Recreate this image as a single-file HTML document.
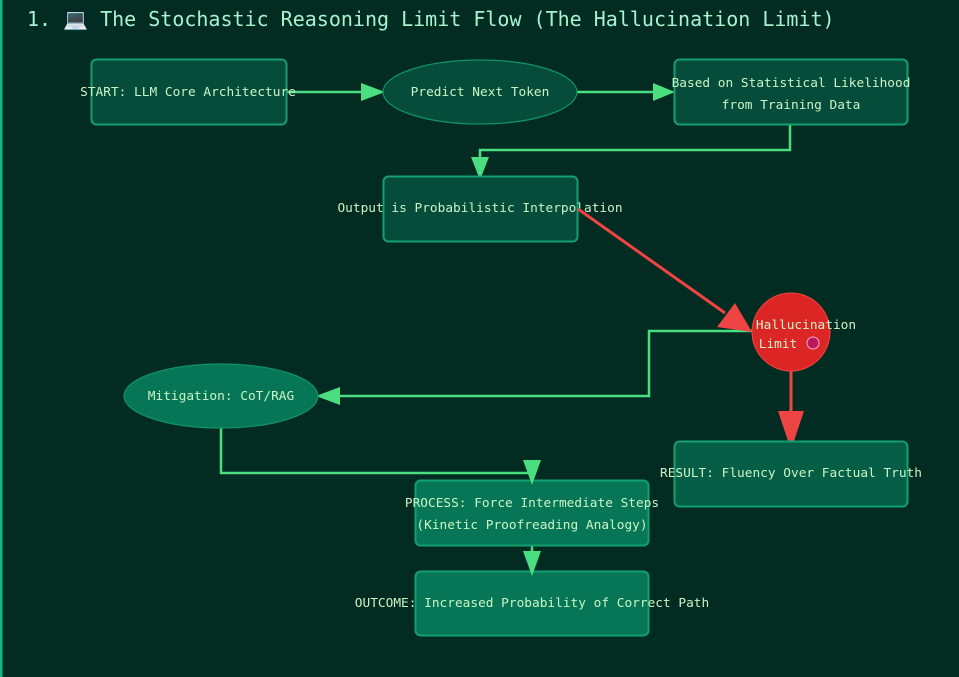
<!DOCTYPE html>
<html><head><meta charset="utf-8"><style>
html,body{margin:0;padding:0;background:#022b22;}
svg{display:block}
text{font-family:"DejaVu Sans Mono","Liberation Mono",monospace;font-size:12.8px;fill:#c9f5c4;}
</style></head><body>
<svg width="959" height="677" viewBox="0 0 959 677" xmlns="http://www.w3.org/2000/svg">
<rect x="0" y="0" width="959" height="677" fill="#022b22"/>
<rect x="0" y="0" width="2.5" height="677" fill="#10b981"/>
<text x="27" y="26" style="font-size:20px;fill:#a7f3d0">1. 💻 The Stochastic Reasoning Limit Flow (The Hallucination Limit)</text>

<g stroke="#4ade80" stroke-width="2.5" fill="none">
<line x1="286" y1="92" x2="365" y2="92"/>
<line x1="577" y1="92" x2="656" y2="92"/>
<polyline points="790,125 790,150 480,150 480,160"/>
<polyline points="752,331 649,331 649,396 335,396"/>
<polyline points="221,428 221,473 532,473 532,462"/>
<line x1="532" y1="545" x2="532" y2="556"/>
</g>
<g fill="#4ade80">
<polygon points="385,92 361,83 361,101"/>
<polygon points="675,92 653,83 653,101"/>
<polygon points="480,180 471,157 489,157"/>
<polygon points="316,396 340,387 340,405"/>
</g>

<rect x="91.5" y="59.5" width="195" height="65" rx="5" fill="#064c3b" stroke="#12a070" stroke-width="2"/>
<text x="188" y="96" text-anchor="middle">START: LLM Core Architecture</text>
<ellipse cx="480" cy="92" rx="97" ry="32" fill="#064c3b" stroke="#0e9466" stroke-width="1.2"/>
<text x="480" y="96" text-anchor="middle">Predict Next Token</text>
<rect x="674.5" y="59.5" width="233" height="65" rx="5" fill="#064c3b" stroke="#12a070" stroke-width="2"/>
<text x="791" y="87" text-anchor="middle">Based on Statistical Likelihood</text>
<text x="791" y="109" text-anchor="middle">from Training Data</text>
<rect x="383.5" y="176.5" width="194" height="65" rx="5" fill="#064c3b" stroke="#12a070" stroke-width="2"/>
<text x="480" y="212" text-anchor="middle">Output is Probabilistic Interpolation</text>

<line x1="578" y1="209" x2="725" y2="313" stroke="#ef4444" stroke-width="3"/>
<polygon points="752,332 717,327 735,303" fill="#ef4444"/>
<line x1="791" y1="371" x2="791" y2="415" stroke="#ef4444" stroke-width="3"/>
<polygon points="791,450 778,411 804,411" fill="#ef4444"/>

<circle cx="791" cy="332" r="39" fill="#dc2626" stroke="#ef4444" stroke-width="1"/>
<text x="806" y="329" text-anchor="middle">Hallucination</text>
<text x="778" y="348" text-anchor="middle">Limit</text>
<circle cx="813" cy="343" r="6" fill="#be185d" stroke="#f9a8d4" stroke-width="1"/>

<ellipse cx="221" cy="396" rx="97" ry="32" fill="#077656" stroke="#0e9466" stroke-width="1.2"/>
<text x="221" y="400" text-anchor="middle">Mitigation: CoT/RAG</text>

<rect x="674.5" y="441.5" width="233" height="65" rx="5" fill="#075e47" stroke="#12a070" stroke-width="2"/>
<text x="791" y="477" text-anchor="middle">RESULT: Fluency Over Factual Truth</text>

<rect x="415.5" y="480.5" width="233" height="65" rx="5" fill="#077656" stroke="#12a070" stroke-width="2"/>
<text x="532" y="507" text-anchor="middle">PROCESS: Force Intermediate Steps</text>
<text x="532" y="529" text-anchor="middle">(Kinetic Proofreading Analogy)</text>
<polygon points="532,485 523,460 541,460" fill="#4ade80"/>

<rect x="415.5" y="571.5" width="233" height="64" rx="5" fill="#077656" stroke="#12a070" stroke-width="2"/>
<text x="532" y="607" text-anchor="middle">OUTCOME: Increased Probability of Correct Path</text>
<polygon points="532,576 523,551 541,551" fill="#4ade80"/>
</svg>
</body></html>
